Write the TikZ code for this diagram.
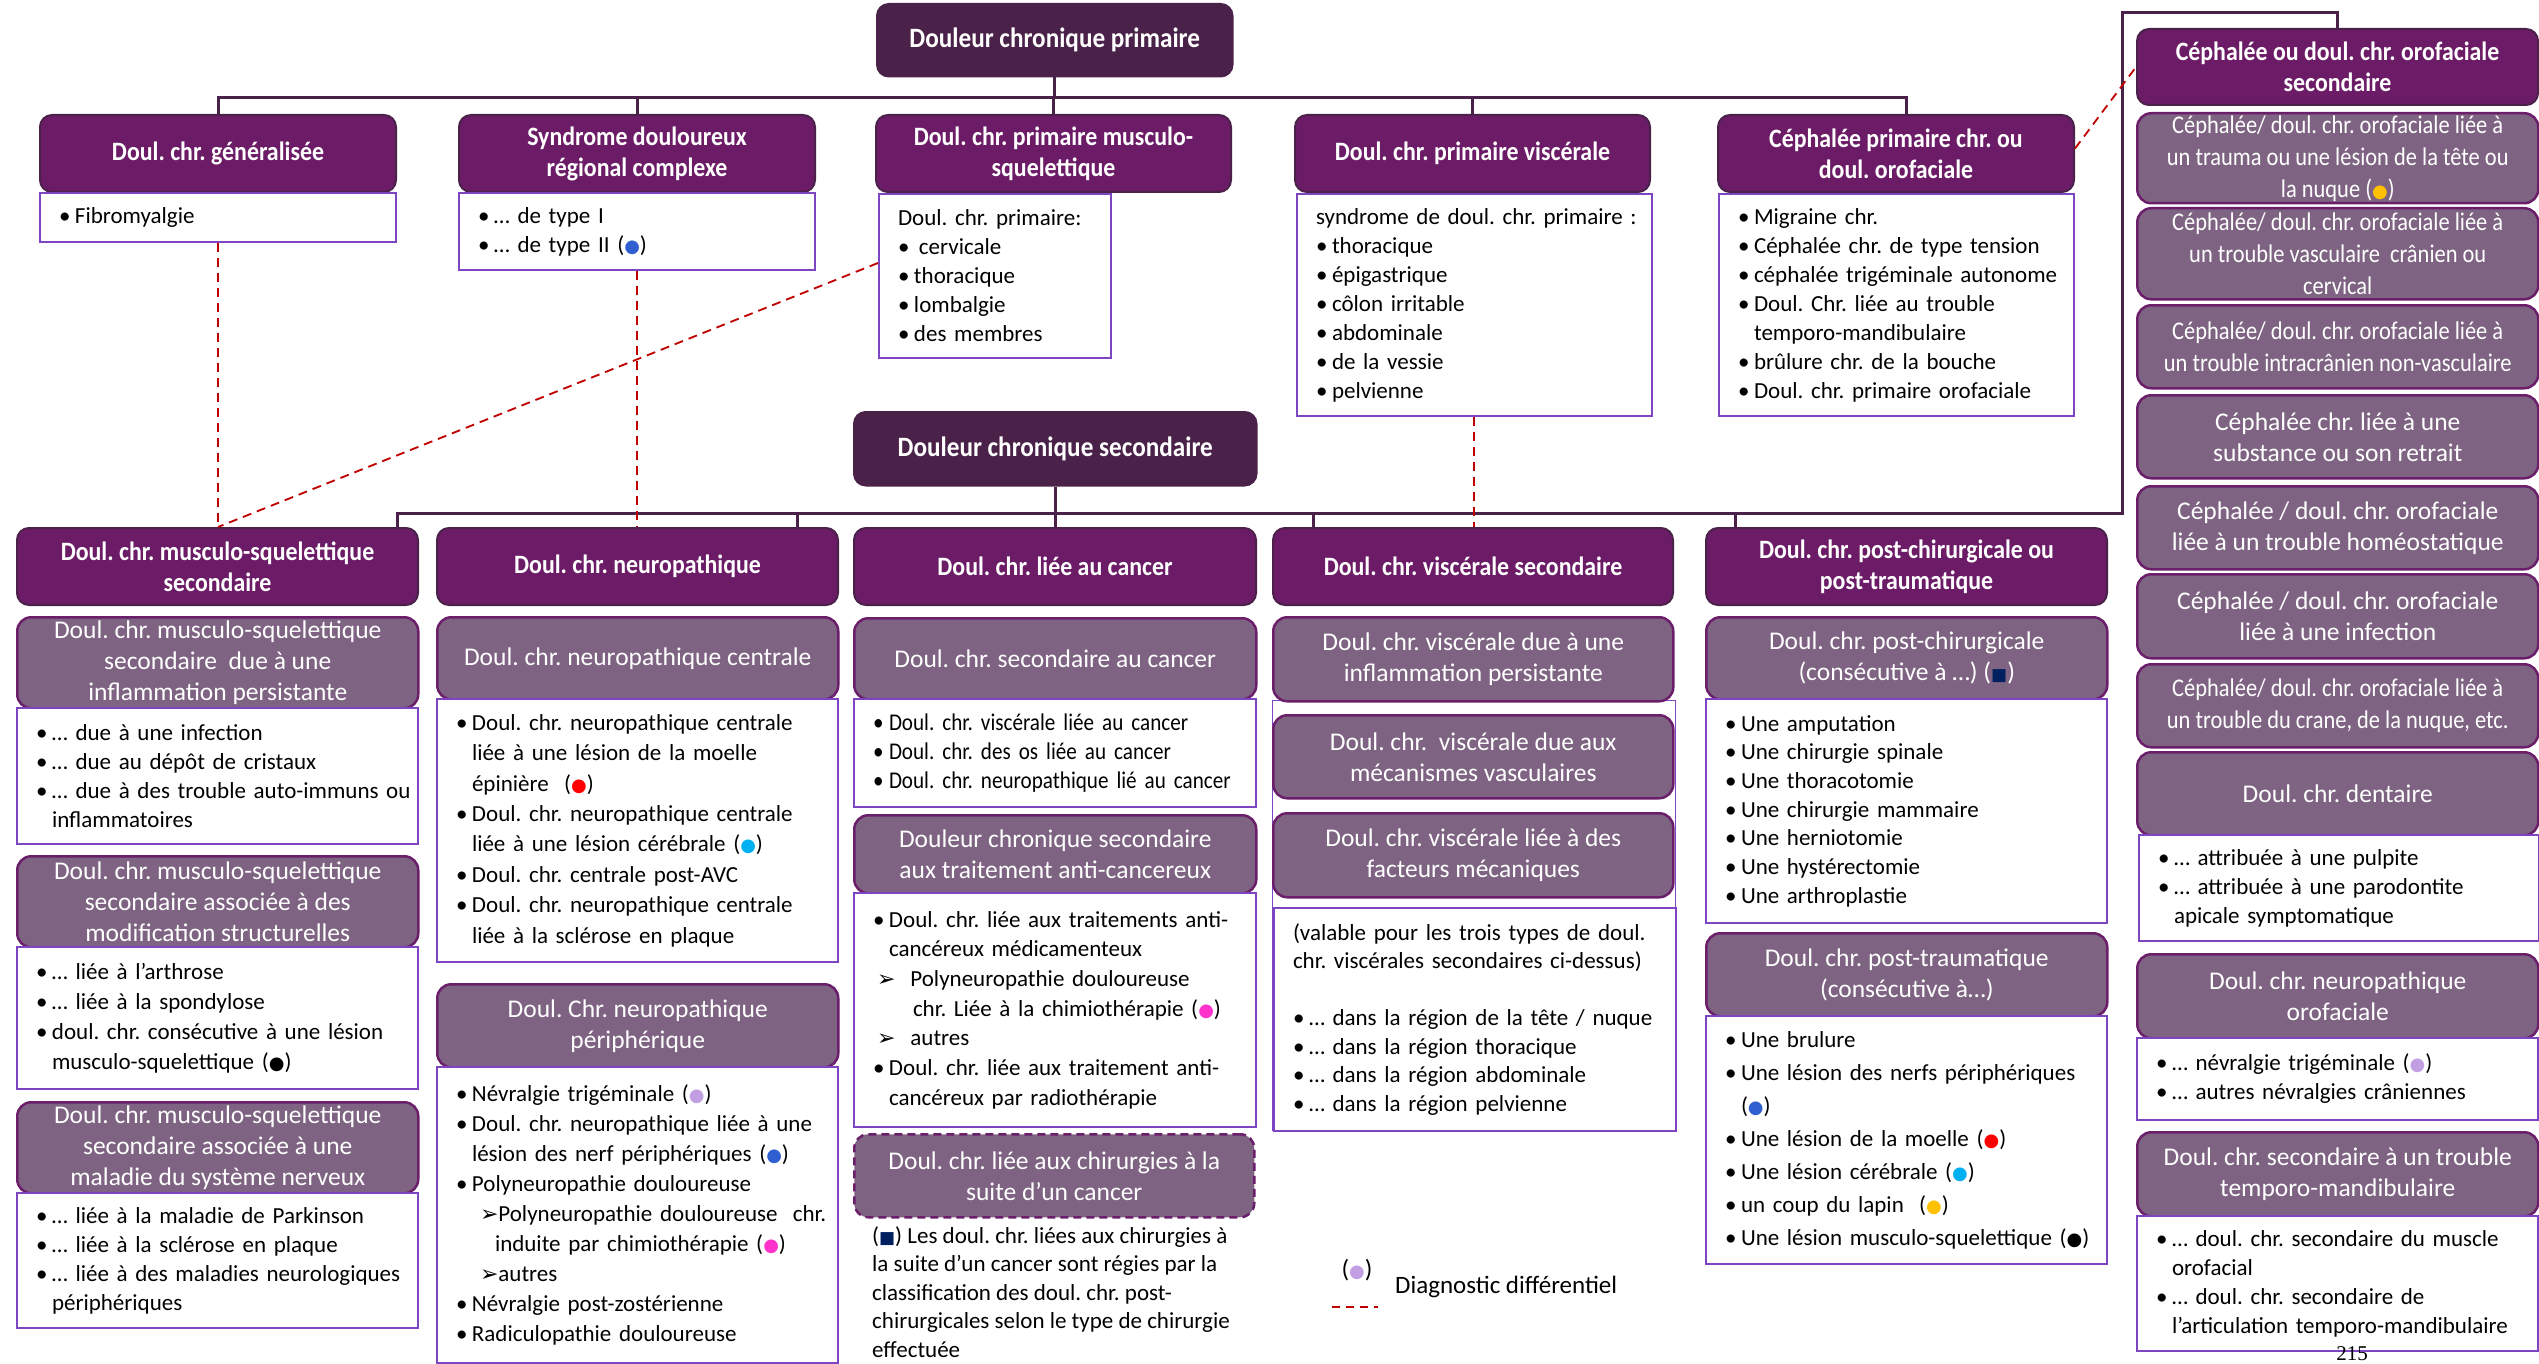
\documentclass[tikz,border=0pt]{standalone}
\usepackage{fontspec}
\setmainfont{Carlito}
\newfontfamily\headfont{Carlito}[FakeStretch=0.9]
\newfontfamily\condfont{Carlito}[FakeStretch=0.88]
\newfontfamily\symfont{DejaVu Sans}
\newfontfamily\pagefont{Liberation Serif}
\usetikzlibrary{positioning,calc}
\definecolor{rootfill}{HTML}{4A2249}
\definecolor{headfill}{HTML}{6C1C67}
\definecolor{subfill}{HTML}{7E6482}
\definecolor{subline}{HTML}{6B1F6B}
\definecolor{bodyline}{HTML}{7E45C3}
\definecolor{diffred}{HTML}{C00000}
\definecolor{dotblue}{HTML}{2F5FD0}
\definecolor{dotred}{HTML}{FF0000}
\definecolor{dotcyan}{HTML}{00B0F0}
\definecolor{dotpink}{HTML}{FF33CC}
\definecolor{dotlav}{HTML}{C29FE3}
\definecolor{dotgold}{HTML}{FFC000}
\definecolor{sqnavy}{HTML}{002060}
\newcommand{\rootfnt}{\headfont\bfseries\fontsize{28}{32}\selectfont}
\newcommand{\headfnt}{\headfont\bfseries\fontsize{26.5}{31}\selectfont}
\newcommand{\subfnt}{\fontsize{25.5}{31}\selectfont}
\newcommand{\subcfnt}{\condfont\fontsize{25.5}{32}\selectfont}
\newcommand{\bodyfnt}{\fontsize{23}{29}\selectfont}
\newcommand{\blt}{\makebox[16pt][l]{•}}
\newcommand{\bl}[1]{\mbox{\blt#1}}
\newcommand{\cl}[1]{\mbox{\hspace*{16pt}#1}}
\newcommand{\dotc}[1]{{\symfont\fontsize{18}{18}\selectfont\color{#1}●}}
\newcommand{\sqn}{{\symfont\fontsize{17}{17}\selectfont\color{sqnavy}■}}
\newcommand{\arr}{{\symfont\fontsize{22}{22}\selectfont ➢}}

\begin{document}
\frenchspacing
\begin{tikzpicture}[x=1pt, y=-1pt,
  rootbox/.style={draw=rootfill, fill=rootfill, text=white, rounded corners=12pt, line width=1.5pt, font=\rootfnt, anchor=north west, inner sep=0pt, align=center},
  headbox/.style={draw=rootfill, fill=headfill, text=white, rounded corners=12pt, line width=2pt, font=\headfnt, anchor=north west, inner sep=0pt, align=center},
  subbox/.style={draw=subline, fill=subfill, text=white, rounded corners=14pt, line width=2.5pt, font=\subfnt, anchor=north west, inner sep=0pt, align=center},
  bodybox/.style={draw=bodyline, fill=white, line width=2pt, font=\bodyfnt, anchor=north west, inner xsep=19pt, inner ysep=0pt, align=left},
  bx/.style 2 args={minimum width=#1pt, minimum height=#2pt},
  linkline/.style={draw=rootfill, line width=3pt},
  diffline/.style={draw=diffred, line width=1.8pt, dash pattern=on 9pt off 6pt}]
\useasboundingbox (0,0) rectangle (2539,1364);
\fill[white] (0,0) rectangle (2539,1364);

% primary pain
\node[rootbox, bx={356}{73}] (prim) at (876,3) {Douleur chronique primaire};
\node[headbox, bx={356}{77}] (gen) at (39,114) {Doul. chr. généralisée};
\node[headbox, bx={356}{77}] (sdrc) at (458,114) {Syndrome douloureux\\régional complexe};
\node[headbox, bx={355}{77}] (msp) at (875,114) {Doul. chr. primaire musculo-\\squelettique};
\node[headbox, bx={355}{77}] (visp) at (1294,114) {Doul. chr. primaire viscérale};
\node[headbox, bx={356}{77}] (ceph) at (1717,114) {Céphalée primaire chr. ou\\doul. orofaciale};
\node[bodybox, bx={356}{49}, text width=318pt] (genb) at (39,192) {\bl{Fibromyalgie}};
\node[bodybox, bx={356}{77}, text width=318pt] (sdrcb) at (458,192) {\bl{… de type I}\\\bl{… de type II (\dotc{dotblue})}};
\node[bodybox, bx={232}{164}, text width=194pt] (mspb) at (878,193) {\mbox{Doul. chr. primaire:}\\\bl{\hspace{5pt}cervicale}\\\bl{thoracique}\\\bl{lombalgie}\\\bl{des membres}};
\node[bodybox, bx={355}{222}, text width=317pt] (vispb) at (1296,193) {\mbox{syndrome de doul. chr. primaire :}\\\bl{thoracique}\\\bl{épigastrique}\\\bl{côlon irritable}\\\bl{abdominale}\\\bl{de la vessie}\\\bl{pelvienne}};
\node[bodybox, bx={355}{222}, text width=317pt] (cephb) at (1718,193) {\bl{Migraine chr.}\\\bl{Céphalée chr. de type tension}\\\bl{céphalée trigéminale autonome}\\\bl{Doul. Chr. liée au trouble}\\\cl{temporo-mandibulaire}\\\bl{brûlure chr. de la bouche}\\\bl{Doul. chr. primaire orofaciale}};

% secondary headache column
\node[headbox, bx={401}{76}] (cephs) at (2136,28) {Céphalée ou doul. chr. orofaciale\\secondaire};
\node[subbox, bx={401}{90}, font=\subcfnt] (cs1) at (2136,112) {Céphalée/ doul. chr. orofaciale liée à\\un trauma ou une lésion de la tête ou\\la nuque (\dotc{dotgold})};
\node[subbox, bx={401}{91}, font=\subcfnt] (cs2) at (2136,207) {Céphalée/ doul. chr. orofaciale liée à\\un trouble vasculaire\ \ crânien ou\\cervical};
\node[subbox, bx={401}{83}, font=\subcfnt] (cs3) at (2136,304) {Céphalée/ doul. chr. orofaciale liée à\\un trouble intracrânien non-vasculaire};
\node[subbox, bx={401}{83}] (cs4) at (2136,394) {Céphalée chr. liée à une\\substance ou son retrait};
\node[subbox, bx={401}{83}] (cs5) at (2136,485) {Céphalée / doul. chr. orofaciale\\liée à un trouble homéostatique};
\node[subbox, bx={401}{84}] (cs6) at (2136,573) {Céphalée / doul. chr. orofaciale\\liée à une infection};
\node[subbox, bx={401}{83}, font=\subcfnt] (cs7) at (2136,663) {Céphalée/ doul. chr. orofaciale liée à\\un trouble du crane, de la nuque, etc.};
\node[subbox, bx={401}{83}] (dent) at (2136,751) {Doul. chr. dentaire};
\node[bodybox, bx={400}{106}, text width=362pt] (dentb) at (2138,834) {\bl{… attribuée à une pulpite}\\\bl{… attribuée à une parodontite}\\\cl{apicale symptomatique}};
\node[subbox, bx={401}{84}] (neuof) at (2136,953) {Doul. chr. neuropathique\\orofaciale};
\node[bodybox, bx={401}{82}, text width=363pt] (neuofb) at (2136,1037) {\bl{… névralgie trigéminale (\dotc{dotlav})}\\\bl{… autres névralgies crâniennes}};
\node[subbox, bx={401}{84}] (atm) at (2136,1131) {Doul. chr. secondaire à un trouble\\temporo-mandibulaire};
\node[bodybox, bx={401}{135}, text width=363pt] (atmb) at (2136,1215) {\bl{… doul. chr. secondaire du muscle}\\\cl{orofacial}\\\bl{… doul. chr. secondaire de}\\\cl{l’articulation temporo-mandibulaire}};

% secondary pain
\node[rootbox, bx={403}{74}] (sec) at (853,411) {Douleur chronique secondaire};
\node[headbox, bx={401}{77}] (mss) at (16,527) {Doul. chr. musculo-squelettique\\secondaire};
\node[headbox, bx={401}{77}] (neu) at (436,527) {Doul. chr. neuropathique};
\node[headbox, bx={402}{77}] (can) at (853,527) {Doul. chr. liée au cancer};
\node[headbox, bx={400}{77}] (viss) at (1272,527) {Doul. chr. viscérale secondaire};
\node[headbox, bx={401}{77}] (pct) at (1705,527) {Doul. chr. post-chirurgicale ou\\post-traumatique};

\node[subbox, bx={401}{91}] (mss1) at (16,616) {Doul. chr. musculo-squelettique\\secondaire\ \ due à une\\inflammation persistante};
\node[bodybox, bx={401}{136}, text width=363pt] (mss1b) at (16,707) {\bl{… due à une infection}\\\bl{… due au dépôt de cristaux}\\\bl{… due à des trouble auto-immuns ou}\\\cl{inflammatoires}};
\node[subbox, bx={401}{91}] (mss2) at (16,855) {Doul. chr. musculo-squelettique\\secondaire associée à des\\modification structurelles};
\node[bodybox, bx={401}{142}, text width=363pt, font=\fontsize{23}{30}\selectfont] (mss2b) at (16,946) {\bl{… liée à l’arthrose}\\\bl{… liée à la spondylose}\\\bl{doul. chr. consécutive à une lésion}\\\cl{musculo-squelettique (\dotc{black})}};
\node[subbox, bx={401}{91}] (mss3) at (16,1101) {Doul. chr. musculo-squelettique\\secondaire associée à une\\maladie du système nerveux};
\node[bodybox, bx={401}{135}, text width=363pt] (mss3b) at (16,1192) {\bl{… liée à la maladie de Parkinson}\\\bl{… liée à la sclérose en plaque}\\\bl{… liée à des maladies neurologiques}\\\cl{périphériques}};

\node[subbox, bx={401}{82}] (neu1) at (436,616) {Doul. chr. neuropathique centrale};
\node[bodybox, bx={401}{263}, text width=363pt, font=\fontsize{23}{30.4}\selectfont] (neu1b) at (436,698) {\bl{Doul. chr. neuropathique centrale}\\\cl{liée à une lésion de la moelle}\\\cl{épinière\ \ (\dotc{dotred})}\\\bl{Doul. chr. neuropathique centrale}\\\cl{liée à une lésion cérébrale (\dotc{dotcyan})}\\\bl{Doul. chr. centrale post-AVC}\\\bl{Doul. chr. neuropathique centrale}\\\cl{liée à la sclérose en plaque}};
\node[subbox, bx={401}{83}] (neu2) at (436,983) {Doul. Chr. neuropathique\\périphérique};
\node[bodybox, bx={401}{296}, text width=363pt, font=\fontsize{23}{30}\selectfont] (neu2b) at (436,1066) {\bl{Névralgie trigéminale (\dotc{dotlav})}\\\bl{Doul. chr. neuropathique liée à une}\\\cl{lésion des nerf périphériques (\dotc{dotblue})}\\\bl{Polyneuropathie douloureuse}\\\mbox{\hspace*{24pt}\arr Polyneuropathie douloureuse\ \ chr.}\\\mbox{\hspace*{39pt}induite par chimiothérapie (\dotc{dotpink})}\\\mbox{\hspace*{24pt}\arr autres}\\\bl{Névralgie post-zostérienne}\\\bl{Radiculopathie douloureuse}};

\node[subbox, bx={402}{81}] (can1) at (853,617) {Doul. chr. secondaire au cancer};
\node[bodybox, bx={402}{108}, text width=364pt, font=\condfont\fontsize{24}{29}\selectfont] (can1b) at (853,698) {\bl{Doul. chr. viscérale liée au cancer}\\\bl{Doul. chr. des os liée au cancer}\\\bl{Doul. chr. neuropathique lié au cancer}};
\node[subbox, bx={402}{78}] (can2) at (853,814) {Douleur chronique secondaire\\aux traitement anti-cancereux};
\node[bodybox, bx={402}{234}, text width=364pt, font=\fontsize{23}{29.7}\selectfont] (can2b) at (853,892) {\bl{Doul. chr. liée aux traitements anti-}\\\cl{cancéreux médicamenteux}\\\mbox{\hspace*{4pt}\arr\hspace{15pt}Polyneuropathie douloureuse}\\\mbox{\hspace*{40pt}chr. Liée à la chimiothérapie (\dotc{dotpink})}\\\mbox{\hspace*{4pt}\arr\hspace{15pt}autres}\\\bl{Doul. chr. liée aux traitement anti-}\\\cl{cancéreux par radiothérapie}};
\node[subbox, bx={400}{83}, dash pattern=on 8pt off 5pt] (can3) at (853,1133) {Doul. chr. liée aux chirurgies à la\\suite d’un cancer};
\node[anchor=north west, inner sep=0pt, align=left, font=\fontsize{23}{28.5}\selectfont] (cannote) at (872,1226) {(\sqn) Les doul. chr. liées aux chirurgies à\\la suite d’un cancer sont régies par la\\classification des doul. chr. post-\\chirurgicales selon le type de chirurgie\\effectuée};

\node[bodybox, bx={403}{430}, line width=1pt] (vissf) at (1272,700) {};
\node[subbox, bx={400}{84}] (viss1) at (1272,616) {Doul. chr. viscérale due à une\\inflammation persistante};
\node[subbox, bx={400}{83}] (viss2) at (1272,714) {Doul. chr.\ \ viscérale due aux\\mécanismes vasculaires};
\node[subbox, bx={400}{84}] (viss3) at (1272,812) {Doul. chr. viscérale liée à des\\facteurs mécaniques};
\node[bodybox, bx={402}{223}, text width=364pt, font=\fontsize{23}{28.5}\selectfont] (vissb) at (1273,907) {\mbox{(valable pour les trois types de doul.}\\\mbox{chr. viscérales secondaires ci-dessus)}\\[28.5pt]\bl{… dans la région de la tête / nuque}\\\bl{… dans la région thoracique}\\\bl{… dans la région abdominale}\\\bl{… dans la région pelvienne}};

\node[subbox, bx={401}{82}] (pc1) at (1705,616) {Doul. chr. post-chirurgicale\\(consécutive à …) (\sqn)};
\node[bodybox, bx={401}{224}, text width=363pt, font=\fontsize{23}{28.7}\selectfont] (pc1b) at (1705,698) {\bl{Une amputation}\\\bl{Une chirurgie spinale}\\\bl{Une thoracotomie}\\\bl{Une chirurgie mammaire}\\\bl{Une herniotomie}\\\bl{Une hystérectomie}\\\bl{Une arthroplastie}};
\node[subbox, bx={401}{83}] (pc2) at (1705,932) {Doul. chr. post-traumatique\\(consécutive à…)};
\node[bodybox, bx={401}{248}, text width=363pt, font=\fontsize{23}{33}\selectfont] (pc2b) at (1705,1015) {\bl{Une brulure}\\\bl{Une lésion des nerfs périphériques}\\\cl{(\dotc{dotblue})}\\\bl{Une lésion de la moelle (\dotc{dotred})}\\\bl{Une lésion cérébrale (\dotc{dotcyan})}\\\bl{un coup du lapin\ \ (\dotc{dotgold})}\\\bl{Une lésion musculo-squelettique (\dotc{black})}};

% legend and page number
\node[inner sep=0pt, font=\fontsize{25}{30}\selectfont] (legdot) at (1357,1270) {(\dotc{dotlav})};
\node[anchor=west, inner sep=0pt, font=\fontsize{25}{30}\selectfont] (legtxt) at (1395,1287) {Diagnostic différentiel};
\coordinate (legA) at (1332,1307);
\coordinate (legB) at (1378,1307);
\node[inner sep=0pt, font=\pagefont\fontsize{21}{21}\selectfont] (pgnum) at (2352,1354) {215};

% tree links
\coordinate (bus1) at (1054,98);
\coordinate (bus2) at (1054,513);
\coordinate (rtop) at (2122,13);
\coordinate (cephj) at ([xshift=10pt]ceph.north);
\coordinate (mssj) at ([xshift=-22pt]mss.north east);
\coordinate (neuj) at ([xshift=-42pt]neu.north east);
\coordinate (vissj) at ([xshift=41pt]viss.north west);
\coordinate (pctj) at ([xshift=30pt]pct.north west);
\coordinate (vispj) at ([xshift=-0.5pt]vispb.south);
\draw[linkline] (gen.north) |- (bus1) -| (cephj);
\draw[linkline] (prim.south) -- (prim.south |- bus1);
\foreach \n in {sdrc,msp,visp} \draw[linkline] (\n.north) -- (\n.north |- bus1);
\draw[linkline] (mssj) |- (bus2) -| (rtop) -| (cephs.north);
\draw[linkline] (sec.south) -- (sec.south |- bus2);
\draw[linkline] (can.north) -- (can.north |- bus2);
\foreach \n in {neuj,vissj,pctj} \draw[linkline] (\n) -- (\n |- bus2);

% differential diagnosis
\draw[diffline] (genb.south) -- (genb.south |- mss.north);
\draw[diffline] (sdrcb.south) -- (sdrcb.south |- neu.north);
\draw[diffline] ([yshift=13pt]mspb.west) -- (genb.south |- mss.north);
\draw[diffline] (vispj) -- (vispj |- viss.north);
\draw[diffline] ([yshift=5pt]ceph.east) -- (cephs.west);
\draw[diffline, dash pattern=on 8pt off 6pt] (legA) -- (legB);
\end{tikzpicture}
\end{document}
